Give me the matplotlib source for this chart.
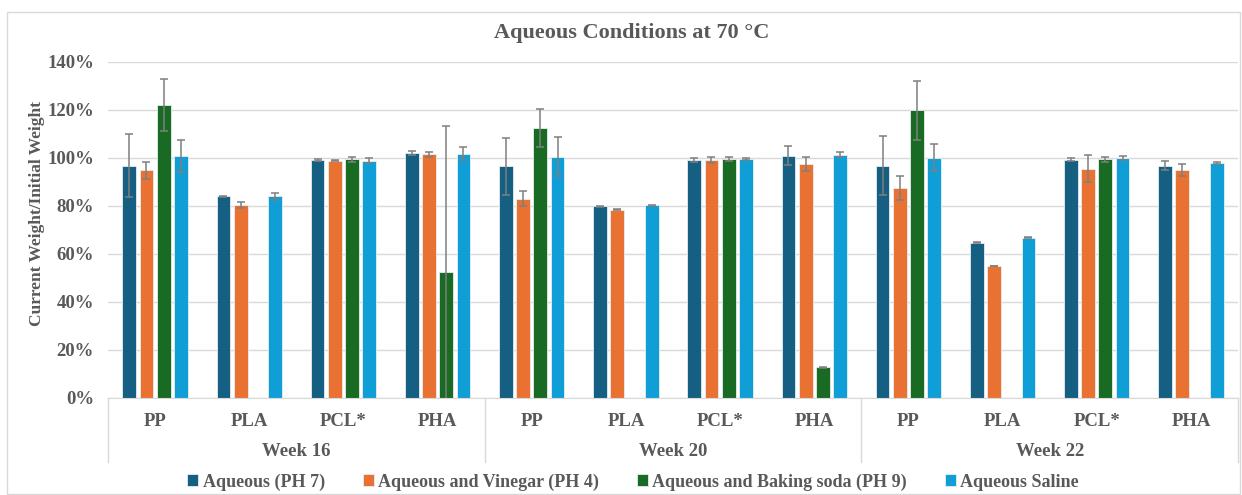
import numpy as np
import matplotlib
matplotlib.use("Agg")
import matplotlib.pyplot as plt
from matplotlib.patches import Rectangle
from matplotlib.ticker import PercentFormatter, MultipleLocator

# ---------------- data ----------------
weeks = ["Week 16", "Week 20", "Week 22"]
materials = ["PP", "PLA", "PCL*", "PHA"]
series_names = ["Aqueous (PH 7)", "Aqueous and Vinegar (PH 4)",
                "Aqueous and Baking soda (PH 9)", "Aqueous Saline"]

# values in % (order: W16 PP, PLA, PCL*, PHA, W20 ..., W22 ...)
aqueous = [96.8, 84.0, 99.2, 102.1, 96.5, 79.9, 99.2, 101.0, 96.8, 64.6, 99.3, 96.8]
vinegar = [94.9, 80.4, 98.8, 101.5, 83.1, 78.5, 99.3, 97.4, 87.4, 55.0, 95.6, 94.9]
baking = [122.1, np.nan, 99.4, 52.4, 112.5, np.nan, 99.6, 12.9, 119.9, np.nan, 99.4, np.nan]
saline = [100.8, 84.0, 98.8, 101.7, 100.6, 80.4, 99.6, 101.4, 100.1, 66.7, 99.9, 97.9]

aqueous_err = [13.0, 0.2, 0.5, 0.7, 11.9, 0.2, 0.9, 3.8, 12.3, 0.2, 0.5, 1.9]
vinegar_err = [3.5, 1.2, 0.2, 1.2, 3.0, 0.2, 1.2, 3.0, 4.9, 0.2, 5.5, 2.6]
baking_err = [11.0, np.nan, 1.0, 61.0, 8.0, np.nan, 1.0, 0.2, 12.3, np.nan, 1.0, np.nan]
saline_err = [6.5, 1.6, 1.0, 2.7, 8.0, 0.2, 0.6, 1.0, 5.7, 0.2, 0.9, 0.6]

colors = ["#156082", "#E97132", "#196B24", "#0F9ED5"]
text_color = "#595959"

plt.rcParams['font.family'] = ['Liberation Serif', 'DejaVu Serif']
plt.rcParams['font.weight'] = 'bold'

W, H = 1242, 495
fig = plt.figure(figsize=(W / 100, H / 100), dpi=100)

# outer chart frame
fig.patches.append(Rectangle((7 / W, 1 - 494 / H), (1240 - 7) / W, (494 - 12) / H,
                             transform=fig.transFigure, fill=False,
                             edgecolor="#d9d9d9", lw=1.0))

ax_l, ax_r, ax_t, ax_b = 108, 1238, 62, 398
ax = fig.add_axes([ax_l / W, 1 - ax_b / H, (ax_r - ax_l) / W, (ax_b - ax_t) / H])

n = len(weeks) * len(materials)
x = np.arange(n)
spacing = 0.183
width = 0.146
all_vals = [aqueous, vinegar, baking, saline]
all_errs = [aqueous_err, vinegar_err, baking_err, saline_err]
for i, (vals, errs, c, name) in enumerate(zip(all_vals, all_errs, colors, series_names)):
    xpos = x + (i - 1.5) * spacing
    v = np.array(vals, dtype=float)
    e = np.array(errs, dtype=float)
    ax.bar(xpos, v, width=width, color=c, edgecolor="#e8eef2", linewidth=0.6,
           label=name, zorder=2)
    ax.errorbar(xpos, v, yerr=e, fmt="none", ecolor="#7f7f7f", elinewidth=1.1,
                capsize=3, capthick=1.1, zorder=3)

ax.set_xlim(-0.5, n - 0.5)
ax.set_ylim(0, 140)
ax.yaxis.set_major_locator(MultipleLocator(20))
ax.yaxis.set_major_formatter(PercentFormatter(decimals=0))
ax.grid(axis="y", color="#d9d9d9", lw=1.0, zorder=0)
ax.set_axisbelow(True)
for s in ["top", "right", "left"]:
    ax.spines[s].set_visible(False)
ax.spines["bottom"].set_color("#d9d9d9")
ax.tick_params(axis="y", length=0, pad=10, labelsize=13.5, labelcolor=text_color)
ax.tick_params(axis="x", length=0, labelbottom=False)
for lab in ax.get_yticklabels():
    lab.set_fontweight("bold")

# multi-level category axis
trans = ax.get_xaxis_transform()
px = 1.0 / (ax_b - ax_t)
for k in range(n):
    ax.text(x[k], -(421 - ax_b) * px, materials[k % len(materials)], transform=trans,
            ha="center", va="center", fontsize=13.5, fontweight="bold", color=text_color)
for w, wk in enumerate(weeks):
    center = w * len(materials) + (len(materials) - 1) / 2
    ax.text(center, -(452 - ax_b) * px, wk, transform=trans, ha="center", va="center",
            fontsize=13.5, fontweight="bold", color=text_color)
for b in range(len(weeks) + 1):
    xb = b * len(materials) - 0.5
    ax.plot([xb, xb], [0, -(462 - ax_b) * px], transform=trans, color="#d9d9d9",
            lw=1.0, clip_on=False)

# titles
fig.text(632 / W, 1 - 33 / H, "Aqueous Conditions at 70 °C", ha="center", va="center",
         fontsize=16, fontweight="bold", color=text_color)
fig.text(37 / W, 1 - 214 / H, "Current Weight/Initial Weight", ha="center", va="center",
         rotation=90, fontsize=12.5, fontweight="bold", color=text_color)

# legend
handles, labels = ax.get_legend_handles_labels()
leg = fig.legend(handles, labels, loc="center", bbox_to_anchor=(633 / W, 1 - 482 / H),
                 ncol=4, frameon=False, fontsize=13, handlelength=0.6, handleheight=0.6,
                 handletextpad=0.25, columnspacing=2.1, borderaxespad=0)
for t in leg.get_texts():
    t.set_color(text_color)
    t.set_fontweight("bold")

fig.savefig("out.png", dpi=100)
